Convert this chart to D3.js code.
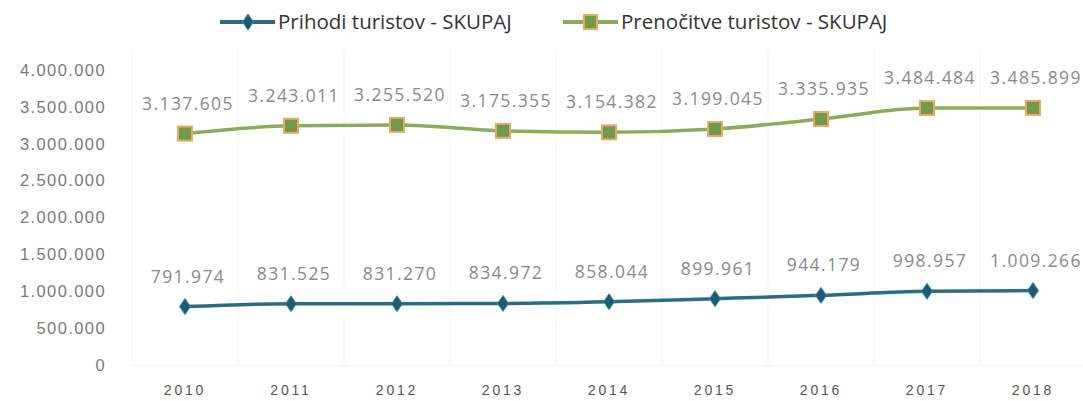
<!DOCTYPE html>
<html>
<head>
<meta charset="utf-8">
<script src="https://cdn.jsdelivr.net/npm/d3@7"></script>
<style>
  body { margin: 0; background: #fff; }
  svg { font-family: "Open Sans", "Noto Sans", sans-serif; }
</style>
</head>
<body>
<div id="chart"></div>
<script>
const years = ["2010", "2011", "2012", "2013", "2014", "2015", "2016", "2017", "2018"];
const arrivals = [791974, 831525, 831270, 834972, 858044, 899961, 944179, 998957, 1009266];
const nights = [3137605, 3243011, 3255520, 3175355, 3154382, 3199045, 3335935, 3484484, 3485899];
const yTicks = [0, 500000, 1000000, 1500000, 2000000, 2500000, 3000000, 3500000, 4000000];
const seriesNames = ["Prihodi turistov - SKUPAJ", "Prenočitve turistov - SKUPAJ"];

function drawChart() {
  let dimensions = {
    width: 1083,
    height: 401,
    margin: { top: 70, right: 0, bottom: 36, left: 132 },
  };
  dimensions.boundedWidth = dimensions.width - dimensions.margin.left - dimensions.margin.right;
  dimensions.boundedHeight = dimensions.height - dimensions.margin.top - dimensions.margin.bottom;

  const fmt = v => d3.format(",")(v).replace(/,/g, ".");

  const wrapper = d3.select("#chart")
    .append("svg")
      .attr("width", dimensions.width)
      .attr("height", dimensions.height);

  const bounds = wrapper.append("g")
      .attr("transform", `translate(${dimensions.margin.left}, ${dimensions.margin.top})`);

  const xScale = d3.scaleBand()
    .domain(years)
    .range([0, 106 * years.length]);

  const yScale = d3.scaleLinear()
    .domain([0, 4000000])
    .range([dimensions.boundedHeight, 0]);

  const cx = d => xScale(d) + xScale.bandwidth() / 2;

  // faint vertical band separators
  bounds.append("g")
    .selectAll("line")
    .data(years.concat(["end"]))
    .join("line")
      .attr("x1", (d, i) => i * xScale.bandwidth())
      .attr("x2", (d, i) => i * xScale.bandwidth())
      .attr("y1", -20)
      .attr("y2", dimensions.boundedHeight)
      .attr("stroke", "#f3f3f3")
      .attr("stroke-width", 1);

  // y axis
  const yAxis = d3.axisLeft(yScale)
    .tickValues(yTicks)
    .tickSize(0)
    .tickPadding(26)
    .tickFormat(d => d === 0 ? "0" : fmt(d));

  bounds.append("g")
    .call(yAxis)
    .call(g => g.select(".domain").remove())
    .call(g => g.selectAll(".tick text")
      .attr("font-size", "16.5px")
      .attr("fill", "#7a7a7a")
      .attr("letter-spacing", "1.4px"));

  // x axis
  const xAxis = d3.axisBottom(xScale).tickSize(0).tickPadding(20);
  bounds.append("g")
    .attr("transform", `translate(0, ${dimensions.boundedHeight})`)
    .call(xAxis)
    .call(g => g.select(".domain").attr("stroke", "#f3f3f3"))
    .call(g => g.selectAll(".tick text")
      .attr("font-size", "14px")
      .attr("fill", "#555")
      .attr("letter-spacing", "2.8px"));

  const line = d3.line()
    .curve(d3.curveMonotoneX)
    .x((d, i) => cx(years[i]))
    .y(d => yScale(d));

  const blue = "#2b6c84";
  const green = "#8eaa5c";
  const diamondPath = "M0,-8L5.5,0L0,8L-5.5,0Z";

  // green series
  bounds.append("path")
    .datum(nights)
    .attr("fill", "none")
    .attr("stroke", green)
    .attr("stroke-width", 3.5)
    .attr("d", line);

  bounds.append("g")
    .selectAll("rect")
    .data(nights)
    .join("rect")
      .attr("x", (d, i) => cx(years[i]) - 7)
      .attr("y", d => yScale(d) - 7)
      .attr("width", 14)
      .attr("height", 14)
      .attr("fill", "#6f9a4c")
      .attr("stroke", "#eba766")
      .attr("stroke-width", 2);

  bounds.append("g")
    .selectAll("text")
    .data(nights)
    .join("text")
      .attr("x", (d, i) => cx(years[i]) + 3)
      .attr("y", d => yScale(d) - 24)
      .attr("text-anchor", "middle")
      .attr("font-size", "17.5px")
      .attr("letter-spacing", "1.4px")
      .attr("fill", "#8a8a8a")
      .text(d => fmt(d));

  // blue series
  bounds.append("path")
    .datum(arrivals)
    .attr("fill", "none")
    .attr("stroke", blue)
    .attr("stroke-width", 3.5)
    .attr("d", line);

  bounds.append("g")
    .selectAll("path")
    .data(arrivals)
    .join("path")
      .attr("transform", (d, i) => `translate(${cx(years[i])}, ${yScale(d)})`)
      .attr("d", diamondPath)
      .attr("fill", "#1f5a72")
      .attr("stroke", "#3f8aa6")
      .attr("stroke-width", 1);

  bounds.append("g")
    .selectAll("text")
    .data(arrivals)
    .join("text")
      .attr("x", (d, i) => cx(years[i]) + 3)
      .attr("y", d => yScale(d) - 24)
      .attr("text-anchor", "middle")
      .attr("font-size", "17.5px")
      .attr("letter-spacing", "1.4px")
      .attr("fill", "#8a8a8a")
      .text(d => fmt(d));

  // legend
  const legend = wrapper.append("g").attr("transform", "translate(0, 22)");
  const items = [
    { name: seriesNames[0], x: 220, color: blue },
    { name: seriesNames[1], x: 563, color: green },
  ];
  items.forEach((it, i) => {
    const g = legend.append("g").attr("transform", `translate(${it.x}, 0)`);
    g.append("line")
      .attr("x1", 0).attr("x2", 55)
      .attr("stroke", it.color)
      .attr("stroke-width", 4);
    if (i === 0) {
      g.append("path")
        .attr("transform", "translate(28, 0)")
        .attr("d", diamondPath)
        .attr("fill", "#1f5a72")
        .attr("stroke", "#3f8aa6");
    } else {
      g.append("rect")
        .attr("x", 21).attr("y", -7)
        .attr("width", 13).attr("height", 14)
        .attr("fill", "#6f9a4c")
        .attr("stroke", "#eba766")
        .attr("stroke-width", 2);
    }
    g.append("text")
      .attr("x", 58)
      .attr("y", 0)
      .attr("dy", "0.35em")
      .attr("font-size", "20.5px")
      .attr("fill", "#333")
      .text(it.name);
  });
}
drawChart();
</script>
</body>
</html>
